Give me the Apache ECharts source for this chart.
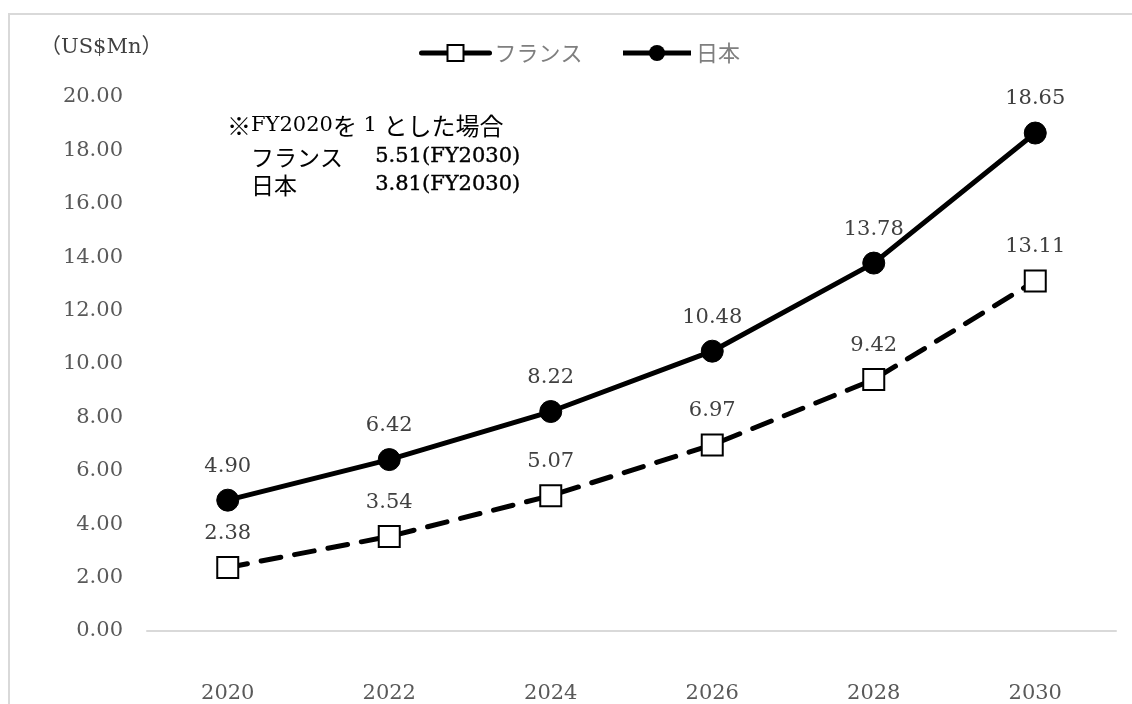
<!DOCTYPE html>
<html><head><meta charset="utf-8">
<script src="https://cdn.jsdelivr.net/npm/echarts@6/dist/echarts.min.js"></script>
<style>html,body{margin:0;padding:0;background:#fff}#c{width:1132px;height:704px}</style>
</head><body><div id="c"></div>
<script>
const categories = ['2020','2022','2024','2026','2028','2030'];
const franceValues = [2.38, 3.54, 5.07, 6.97, 9.42, 13.11];
const japanValues = [4.90, 6.42, 8.22, 10.48, 13.78, 18.65];
const seriesNames = ['フランス', '日本'];
const unitLabel = '（US$Mn）';
const noteLines = ['※', 'FY2020', 'を', ' 1 ', 'とした場合', 'フランス', '5.51(FY2030)', '日本', '3.81(FY2030)'];

const serif = '"DejaVu Serif", "Noto Sans CJK JP", serif';
const jp = '"Noto Sans CJK JP", "DejaVu Serif", serif';
const chart = echarts.init(document.getElementById('c'));
chart.setOption({
  animation: false,
  backgroundColor: '#fff',
  grid: {left: 147, right: 16, top: 97, bottom: 73, containLabel: false},
  legend: {
    top: 37, left: 414, itemWidth: 68, itemHeight: 20, itemGap: 38,
    textStyle: {fontFamily: jp, fontSize: 22, color: '#7f7f7f'},
    data: [
      {name: seriesNames[0], lineStyle:{type:'solid', width:5, color:'#000'}},
      {name: seriesNames[1], lineStyle:{type:'solid', width:5, color:'#000'}}
    ]
  },
  xAxis: {
    type: 'category', data: categories, boundaryGap: true,
    axisLine: {lineStyle: {color: '#d9d9d9', width: 2}},
    axisTick: {show: false},
    axisLabel: {fontFamily: serif, fontSize: 21, color: '#595959', margin: 52}
  },
  yAxis: {
    type: 'value', min: 0, max: 20, interval: 2,
    splitLine: {show: false}, axisLine: {show: false}, axisTick: {show: false},
    axisLabel: {fontFamily: serif, fontSize: 21, color: '#595959', margin: 24,
      formatter: v => v.toFixed(2)}
  },
  graphic: [
    {type:'rect', shape:{x:9, y:14, width:1140, height:720}, style:{fill:'none', stroke:'#d9d9d9', lineWidth:2}, silent:true},
    {type:'text', left: 40, top: 37, style:{text: unitLabel, font: '21px ' + serif, fill:'#404040'}},
    {type:'text', left: 227, top: 114, style:{
      text: '{a|' + noteLines[0] + '}{b|' + noteLines[1] + '}{a|' + noteLines[2] + '}{b|' + noteLines[3] + '}{a|' + noteLines[4] + '}',
      rich: {a: {fontFamily: jp, fontSize: 24, fill: '#000', color:'#000'}, b: {fontFamily: serif, fontSize: 21, fill:'#000', color:'#000'}}
    }},
    {type:'text', left: 251, top: 146, style:{text: noteLines[5], font: '23px ' + jp, fill:'#000'}},
    {type:'text', left: 375, top: 146, style:{text: noteLines[6], font: '21px ' + serif, fill:'#000', stroke:'#000', lineWidth:0.4}},
    {type:'text', left: 251, top: 174, style:{text: noteLines[7], font: '23px ' + jp, fill:'#000'}},
    {type:'text', left: 375, top: 174, style:{text: noteLines[8], font: '21px ' + serif, fill:'#000', stroke:'#000', lineWidth:0.4}}
  ],
  series: [
    {
      name: seriesNames[0], type: 'line', data: franceValues,
      symbol: 'rect', symbolSize: 21, z: 3,
      itemStyle: {color: '#fff', borderColor: '#000', borderWidth: 2},
      lineStyle: {color: '#000', width: 5, type: [20, 14], cap: 'round'},
      label: {show: true, position: 'top', distance: 12, formatter: p => p.value.toFixed(2),
        fontFamily: serif, fontSize: 21, color: '#404040'}
    },
    {
      name: seriesNames[1], type: 'line', data: japanValues,
      symbol: 'circle', symbolSize: 22, z: 3,
      itemStyle: {color: '#000', borderColor: '#000'},
      lineStyle: {color: '#000', width: 5},
      label: {show: true, position: 'top', distance: 12, formatter: p => p.value.toFixed(2),
        fontFamily: serif, fontSize: 21, color: '#404040'}
    }
  ]
});
</script></body></html>
